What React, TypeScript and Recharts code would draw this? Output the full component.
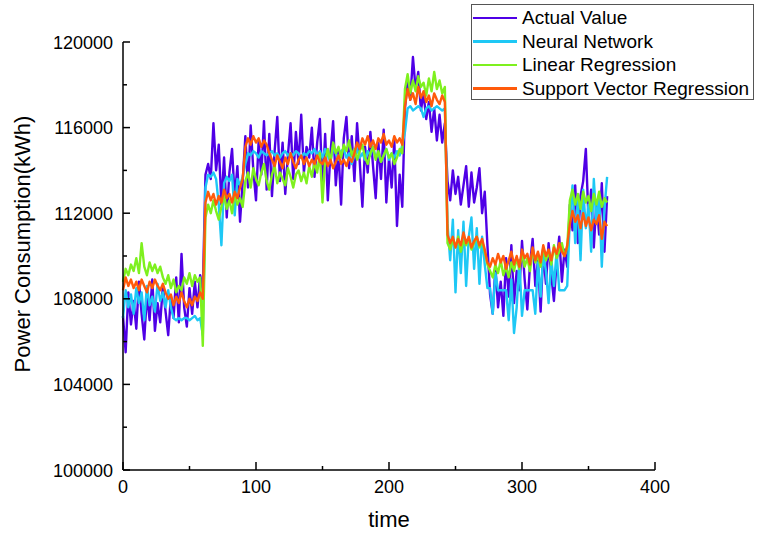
import { Legend, Line, LineChart, XAxis, YAxis } from "recharts";

// daily consumption sampled every second day, kWh
const actualValue = [
  107200, 105500, 108300, 106800, 107900, 106600, 108800, 107300, 106100, 108200,
  107000, 108900, 106500, 107800, 106900, 108600, 107400, 106300, 108100, 107100,
  109000, 106900, 110100, 107600, 106700, 108500, 107300, 108800, 107600, 109100,
  108400,
  113800, 114300, 113600, 116200, 114000, 115200, 112400, 114600, 111800, 113900, 115000, 112700, 114200, 111600, 113500,
  115600, 113200, 116100, 114000, 112600, 115400, 113800, 116300, 113100, 115700,
  112800, 114900, 116500, 113500, 115300, 112900, 114700, 116200, 113600, 115800,
  114300, 116600, 113900, 115100, 114600, 116000, 113700, 115300, 116400,
  113100, 115700, 112600, 114800, 116300, 113300, 114900, 112400, 115500, 116500,
  114100, 115600, 113500, 116200, 114400, 112300, 115100, 113900, 115800, 114200,
  112700, 115300, 113600, 115900, 112500, 114600, 113200, 115400, 111400, 113800, 112300,
  116900, 118200, 117300, 119300, 117800, 118600, 116800, 117600, 116400, 117200, 115800, 116900, 115400, 116600, 115300, 116200,
  113500, 112600, 114000, 112900, 113700, 112400, 113300, 114200, 112300, 113900, 112500, 113200, 114100, 112000, 113000, 110500,
  108200, 107300, 109500, 107600, 108800, 107200, 109900, 108100, 110500, 107800,
  109300, 108400, 110700, 108900, 107500, 109600, 110800, 108600, 109800, 107400,
  110200, 108700, 110600, 109100, 107900, 109700, 110900, 108800, 110300, 109500,
  112400, 111200, 113300, 110600, 112800, 113500, 115000, 111700, 113100, 110400, 112600, 111000, 113400, 110200, 112800,
];

const neuralNetwork = [
  107100, 108400, 107600, 108200, 107300, 108500, 107800, 108300, 107000, 108600, 107700, 108100, 107400, 108700, 107900, 108300, 107600, 108400,
  107600, 107100, 107000, 107100, 107000, 107100, 107100, 107000, 107100, 107200, 107000, 107100,
  106300,
  113200, 113800, 113700, 113900, 113600, 112400, 110500, 113400, 113700, 113500, 113800, 111900, 113600, 113300, 113700,
  114300, 114800, 114700, 114900, 114800, 114600, 114900, 114800, 114700, 114800,
  114900, 114700, 114800, 114600, 114800, 114900, 114700, 114800, 114700, 114900,
  114800, 114600, 114800, 114700, 114900, 114800, 115000, 114700, 114900,
  114600, 115000, 114700, 114400, 115100, 114800, 114500, 114900, 115000, 114600,
  114800, 114300, 114700, 115000, 114600, 114800, 114500, 114900, 114700, 115100,
  114600, 114800, 114400, 114700, 115000, 114500, 114800, 114600, 114900, 114700, 115200,
  115800, 116900, 117000, 116800, 116900, 117000, 116900, 116500, 116900, 117000, 116800, 116900, 117000, 116900, 116800, 116900,
  111500, 109800, 111700, 108300, 111200, 109200, 111600, 108600, 110900, 111800, 109400, 111300, 108700, 110900, 109600, 108500,
  108500, 107300, 109200, 108400, 108400, 108400, 108400, 107000, 108900, 106400,
  107600, 109800, 107200, 108400, 108400, 108400, 108400, 107300, 109700, 108100,
  110100, 109300, 107800, 109900, 108600, 110200, 108400, 108400, 108400, 108600,
  111800, 113300, 110600, 112700, 109800, 113100, 111300, 112400, 110200, 113600, 111500, 112900, 109500, 112200, 113700,
];

const linearRegression = [
  108800, 109400, 109100, 109600, 109300, 109900, 109200, 110600, 109500, 109100, 109700, 109300, 109600, 109200, 109500,
  109000, 108700, 109100, 108500, 108900, 108300, 108600, 108400, 109000, 108700, 109200, 108600, 109100, 108800, 109000,
  105800,
  111800, 112400, 112000, 112600, 112100, 111700, 112300, 112800, 112200, 112600, 112000, 112900, 112400, 112700, 112300,
  113500, 113900, 113200, 114100, 113600, 113300, 113900, 114300, 113500, 113100,
  113800, 114200, 113400, 113900, 113600, 113300, 114100, 113700, 113200, 113800,
  114000, 113500, 113900, 113400, 114200, 113700, 114400, 113900, 114800,
  112500, 114500, 115000, 114400, 115300, 114800, 115100, 114600, 115200, 114900,
  115400, 114700, 115000, 114500, 114900, 115200, 114600, 114300, 114800, 115100,
  114500, 114900, 114400, 114700, 115000, 114600, 114800, 114300, 114600, 115000, 114800,
  117800, 118500, 117600, 118200, 117700, 118400, 117900, 118100, 117500, 118300, 117700, 118600, 117800, 118200, 117600, 117900,
  110600, 110300, 110800, 110400, 110900, 110200, 110700, 110500, 110800, 110300, 110600, 110900, 110400, 110700, 110200, 109600,
  109300, 109000, 109600, 109200, 109800, 109100, 109500, 109000, 109700, 109300,
  109900, 109400, 110100, 109500, 109900, 109300, 110300, 109700, 110000, 109500,
  110400, 109800, 110200, 109600, 110500, 109900, 110200, 110600, 110000, 110400,
  112600, 113100, 112400, 112900, 112200, 113000, 112500, 112800, 112100, 112900, 112400, 113000, 112300, 112700, 112500,
];

const supportVectorRegression = [
  108400, 109000, 108600, 108900, 108500, 108800, 108400, 108900, 108600, 108300, 108800, 108500, 108900, 108600, 108400, 108700,
  108300, 108000, 108200, 107700, 108100, 107800, 108300, 107900, 107600, 108000, 107700, 108100, 107900, 108300,
  108000,
  112500, 113000, 112600, 112900, 112400, 112800, 112500, 113100, 112700, 112900, 112500, 113000, 112700, 113200, 113600,
  115100, 115500, 115200, 115600, 115300, 115500, 115100, 115400, 115200, 114800,
  114500, 114200, 114700, 114400, 114100, 114600, 114300, 114800, 114400, 114100,
  114500, 114700, 114300, 114600, 114200, 114500, 114300, 114700, 114400,
  114300, 114600, 114200, 114500, 114100, 114400, 114700, 114300, 114500, 114200, 114600, 114400, 114800,
  115300, 115000, 115500, 115200, 115600, 115100, 115400, 115000, 115500, 115300, 115700, 115200, 115400, 115100, 115600, 115300, 115500, 115200,
  117000, 117800, 117300, 117600, 117100, 117900, 117400, 117700, 117200, 117500, 117000, 117600, 117300, 117100, 117500, 117200,
  111000, 110600, 110900, 110400, 110800, 110500, 111100, 110600, 110900, 110400, 110700, 110900, 110500, 110800, 110300, 109700,
  109500, 109900, 109600, 110100, 109700, 110000, 109400, 109800, 110200, 109600,
  110000, 109500, 110300, 109900, 110100, 109600, 110400, 109800, 110200, 109700,
  110500, 110000, 110300, 109800, 110400, 110100, 110600, 110200, 110000, 110500,
  111500, 112100, 111600, 111900, 111300, 112000, 111400, 111800, 111200, 111700, 111500, 111900, 110800, 111600, 111400,
];

const xTicks = [0, 50, 100, 150, 200, 250, 300, 350, 400];
const yTicks = [100000, 102000, 104000, 106000, 108000, 110000, 112000, 114000, 116000, 118000, 120000];

const series = [
  { key: "actual", name: "Actual Value", color: "#4f00e6", values: actualValue },
  { key: "nn", name: "Neural Network", color: "#1ec8f5", values: neuralNetwork },
  { key: "lr", name: "Linear Regression", color: "#7ef01e", values: linearRegression },
  { key: "svr", name: "Support Vector Regression", color: "#ff5a0a", values: supportVectorRegression },
];

const data = actualValue.map((_, i) => {
  const row: Record<string, number> = { day: i * 2 };
  series.forEach((s) => (row[s.key] = s.values[i]));
  return row;
});

const FONT = '"Liberation Sans", Arial, sans-serif';

function XTick({ x, y, payload }: any) {
  const major = payload.value % 100 === 0;
  return (
    <g>
      <line x1={x} y1={y} x2={x} y2={y - (major ? 8 : 4)} stroke="#000" strokeWidth={1.5} />
      {major && (
        <text x={x} y={y + 23} textAnchor="middle" fontSize={18} fontFamily={FONT} fill="#000">
          {payload.value}
        </text>
      )}
    </g>
  );
}

function YTick({ x, y, payload }: any) {
  const major = payload.value % 4000 === 0;
  return (
    <g>
      <line x1={x} y1={y} x2={x + (major ? 7 : 4)} y2={y} stroke="#000" strokeWidth={1.5} />
      {major && (
        <text x={x - 10} y={y + 6.5} textAnchor="end" fontSize={18} fontFamily={FONT} fill="#000">
          {payload.value}
        </text>
      )}
    </g>
  );
}

function LegendBox() {
  return (
    <div
      style={{
        border: "1px solid #555",
        background: "#fff",
        width: 281,
        height: 94,
        fontFamily: FONT,
        fontSize: 19,
        color: "#000",
        boxSizing: "content-box",
      }}
    >
      {series.map((s) => (
        <div key={s.key} style={{ display: "flex", alignItems: "center", height: 23.5, lineHeight: "23.5px", marginTop: s.key === "actual" ? 1 : 0 }}>
          <span style={{ display: "inline-block", width: 44, height: 2.5, background: s.color, marginLeft: 1, marginRight: 5 }} />
          <span>{s.name}</span>
        </div>
      ))}
    </div>
  );
}

export default function App() {
  return (
    <div style={{ position: "absolute", left: 0, top: 0, width: 762, height: 536, background: "#fff" }}>
      <LineChart width={762} height={536} data={data} margin={{ top: 42, right: 107, left: 63, bottom: 36 }}>
        <XAxis
          dataKey="day"
          type="number"
          domain={[0, 400]}
          ticks={xTicks}
          interval={0}
          height={30}
          tickSize={0}
          tickMargin={0}
          tickLine={false}
          axisLine={{ stroke: "#000", strokeWidth: 1.5 }}
          tick={<XTick />}
          label={{
            value: "time",
            content: ({ viewBox }: any) => (
              <text x={viewBox.x + viewBox.width / 2} y={527} textAnchor="middle" fontSize={22} fontFamily={FONT} fill="#000">
                time
              </text>
            ),
          }}
        />
        <YAxis
          type="number"
          domain={[100000, 120000]}
          ticks={yTicks}
          interval={0}
          width={60}
          tickSize={0}
          tickMargin={0}
          tickLine={false}
          axisLine={{ stroke: "#000", strokeWidth: 1.5 }}
          tick={<YTick />}
          label={{
            value: "Power Consumption(kWh)",
            content: () => (
              <text
                x={22}
                y={244}
                transform="rotate(-90 22 244)"
                textAnchor="middle"
                dominantBaseline="central"
                fontSize={22}
                fontFamily={FONT}
                fill="#000"
              >
                Power Consumption(kWh)
              </text>
            ),
          }}
        />
        <Legend
          layout="vertical"
          align="center"
          verticalAlign="middle"
          wrapperStyle={{ left: 471, top: 4, width: 283 }}
          content={() => <LegendBox />}
        />
        {series.map((s) => (
          <Line
            key={s.key}
            type="linear"
            dataKey={s.key}
            name={s.name}
            stroke={s.color}
            strokeWidth={2.4}
            strokeLinejoin="round"
            dot={false}
            isAnimationActive={false}
          />
        ))}
      </LineChart>
    </div>
  );
}
